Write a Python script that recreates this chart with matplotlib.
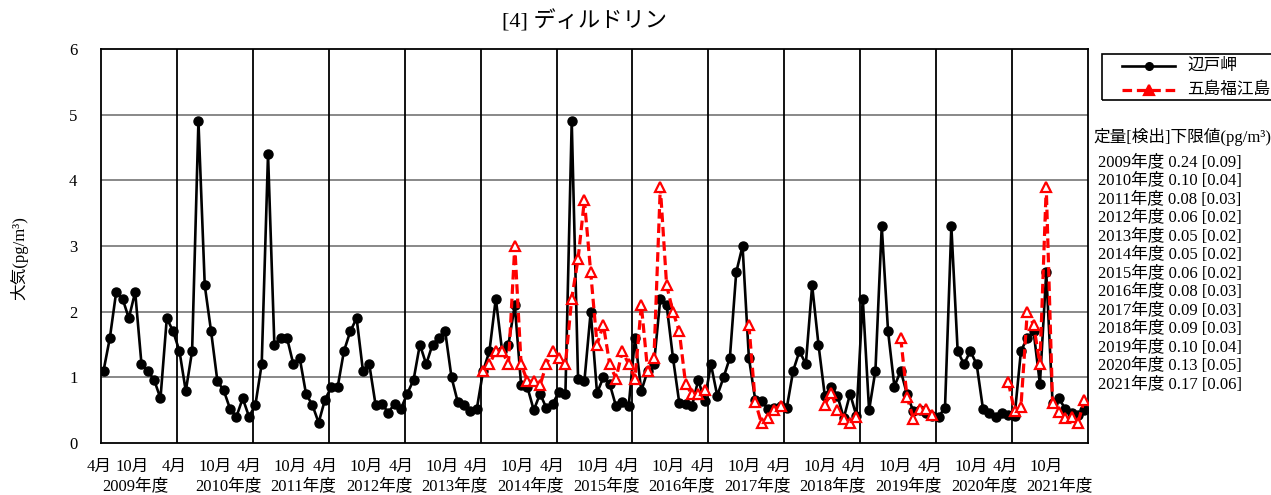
import matplotlib
matplotlib.use('Agg')
import matplotlib.pyplot as plt
import numpy as np
from matplotlib.lines import Line2D
from matplotlib.patches import Rectangle

plt.rcParams['font.family'] = ['Liberation Serif', 'Noto Sans CJK JP']
plt.rcParams['font.size'] = 12

nan = np.nan

# fiscal years 2009-2021, monthly Apr..Mar
years = list(range(2009, 2022))

hedo = [
    1.1, 1.6, 2.3, 2.2, 1.9, 2.3, 1.2, 1.1, 0.96, 0.68, 1.9, 1.7,      # 2009
    1.4, 0.79, 1.4, 4.9, 2.4, 1.7, 0.94, 0.8, 0.52, 0.4, 0.68, 0.4,    # 2010
    0.58, 1.2, 4.4, 1.5, 1.6, 1.6, 1.2, 1.3, 0.75, 0.58, 0.31, 0.66,   # 2011
    0.85, 0.85, 1.4, 1.7, 1.9, 1.1, 1.2, 0.58, 0.6, 0.46, 0.6, 0.52,   # 2012
    0.75, 0.96, 1.5, 1.2, 1.5, 1.6, 1.7, 1.0, 0.62, 0.58, 0.48, 0.52,  # 2013
    1.1, 1.4, 2.2, 1.4, 1.5, 2.1, 0.88, 0.85, 0.5, 0.75, 0.53, 0.6,    # 2014
    0.78, 0.74, 4.9, 0.98, 0.94, 2.0, 0.76, 1.0, 0.9, 0.56, 0.63, 0.56,  # 2015
    1.6, 0.79, 1.1, 1.2, 2.2, 2.1, 1.3, 0.61, 0.6, 0.56, 0.96, 0.64,   # 2016
    1.2, 0.72, 1.0, 1.3, 2.6, 3.0, 1.3, 0.66, 0.64, 0.52, 0.54, 0.56,  # 2017
    0.54, 1.1, 1.4, 1.2, 2.4, 1.5, 0.72, 0.86, 0.72, 0.38, 0.75, 0.41,  # 2018
    2.2, 0.5, 1.1, 3.3, 1.7, 0.86, 1.1, 0.74, 0.48, 0.51, 0.45, 0.41,  # 2019
    0.4, 0.54, 3.3, 1.4, 1.2, 1.4, 1.2, 0.52, 0.45, 0.4, 0.45, 0.42,   # 2020
    0.41, 1.4, 1.6, 1.7, 0.9, 2.6, 0.61, 0.68, 0.52, 0.46, 0.43, 0.5,  # 2021
]

goto = [nan] * 60 + [
    1.1, 1.2, 1.4, 1.4, 1.2, 3.0, 1.2, 0.94, 0.94, 0.88, 1.2, 1.4,     # 2014
    1.3, 1.2, 2.2, 2.8, 3.7, 2.6, 1.5, 1.8, 1.2, 0.98, 1.4, 1.2,       # 2015
    0.98, 2.1, 1.1, 1.3, 3.9, 2.4, 2.0, 1.7, 0.9, 0.74, 0.74, 0.81,    # 2016
    nan, nan, nan, nan, nan, nan, 1.8, 0.63, 0.3, 0.38, 0.51, 0.57,    # 2017
    nan, nan, nan, nan, nan, nan, 0.58, 0.76, 0.51, 0.37, 0.31, 0.4,   # 2018
    nan, nan, nan, nan, nan, nan, 1.6, 0.7, 0.37, 0.52, 0.52, 0.43,    # 2019
    nan, nan, nan, nan, nan, nan, nan, nan, nan, nan, nan, 0.93,       # 2020
    0.48, 0.55, 2.0, 1.8, 1.2, 3.9, 0.61, 0.47, 0.38, 0.39, 0.3, 0.65,  # 2021
]

loq = ['0.24', '0.10', '0.08', '0.06', '0.05', '0.05', '0.06',
       '0.08', '0.09', '0.09', '0.10', '0.13', '0.17']
lod = ['0.09', '0.04', '0.03', '0.02', '0.02', '0.02', '0.02',
       '0.03', '0.03', '0.03', '0.04', '0.05', '0.06']

series_names = ['辺戸岬', '五島福江島']

W, H = 1271, 495
n_months = len(years) * 12
x = np.arange(n_months) + 0.4

fig = plt.figure(figsize=(W / 100, H / 100), dpi=100)
ax = fig.add_axes([101 / W, 1 - 443 / H, 987 / W, 394 / H])

# grid
for v in range(1, 6):
    ax.axhline(v, color='#7f7f7f', lw=1.3, zorder=1)
for k in range(1, len(years)):
    ax.axvline(12 * k, color='black', lw=1.3, zorder=1)

black_style = dict(color='black', lw=1.9, marker='o', markersize=6.5,
                   markerfacecolor='black', markeredgecolor='black')
red_style = dict(color='#ff0000', lw=2.3, ls=(0, (3.0, 1.5)), marker='^',
                 markersize=7.5, markeredgecolor='#ff0000', markeredgewidth=1.6)

ax.plot(x, hedo, zorder=3, **black_style)
ax.plot(x, goto, markerfacecolor='white', zorder=4, **red_style)

ax.set_xlim(0, n_months)
ax.set_ylim(0, 6)
ax.set_yticks(range(0, 7))
ax.tick_params(axis='y', length=0, pad=17, labelsize=12)
ax.set_xticks([])
for s in ax.spines.values():
    s.set_color('black')
    s.set_linewidth(1.3)

ax.set_ylabel('大気(pg/m³)', fontsize=12)
ax.yaxis.set_label_coords(-0.074, 0.47)

fig.text(585 / W, 1 - 21 / H, '[4] ディルドリン', ha='center', va='center',
         fontsize=16)

# x tick labels, placed in pixel columns under the axis
def fx(px):
    return px / W

row1 = 1 - 467 / H
row2 = 1 - 486 / H
step = 75.6
for k, yr in enumerate(years):
    if k == 0:
        p4, p10, py = 99, 132, 135
    else:
        p4 = 174 + step * (k - 1)
        p10 = 215 + step * (k - 1)
        py = 228 + step * (k - 1)
    fig.text(fx(p4), row1, '4月', ha='center', va='center', fontsize=12)
    fig.text(fx(p10), row1, '10月', ha='center', va='center', fontsize=12)
    fig.text(fx(py), row2, f'{yr}年度', ha='center', va='center', fontsize=12)

# legend box drawn by hand so the sample lines sit where the reference has them
fig.patches.append(Rectangle((1102 / W, 1 - 100 / H), 180 / W, 46 / H,
                             transform=fig.transFigure, fill=False,
                             edgecolor='black', lw=1.2, clip_on=False))
for i, (name, st) in enumerate(zip(series_names, [black_style, red_style])):
    yy = 1 - (66 + 24 * i) / H
    kw = dict(st)
    kw['markerfacecolor'] = kw['color']
    kw['marker'] = None
    fig.lines.append(Line2D([1122 / W, 1175 / W], [yy, yy],
                            transform=fig.transFigure, **kw))
    kw = dict(st)
    kw['markerfacecolor'] = kw['color']
    kw['ls'] = 'none'
    kw['markersize'] = st['markersize'] - 1
    fig.lines.append(Line2D([1148.5 / W], [yy], transform=fig.transFigure, **kw))
    fig.text(1187 / W, yy, name, ha='left', va='center', fontsize=12)

fig.text(1093 / W, 1 - 137 / H, '定量[検出]下限値(pg/m³)', ha='left',
         va='center', fontsize=12)
for i, yr in enumerate(years):
    fig.text(1098 / W, 1 - (162.5 + 18.5 * i) / H,
             f'{yr}年度 {loq[i]} [{lod[i]}]', ha='left', va='center', fontsize=12)

fig.savefig('out.png', dpi=100)
